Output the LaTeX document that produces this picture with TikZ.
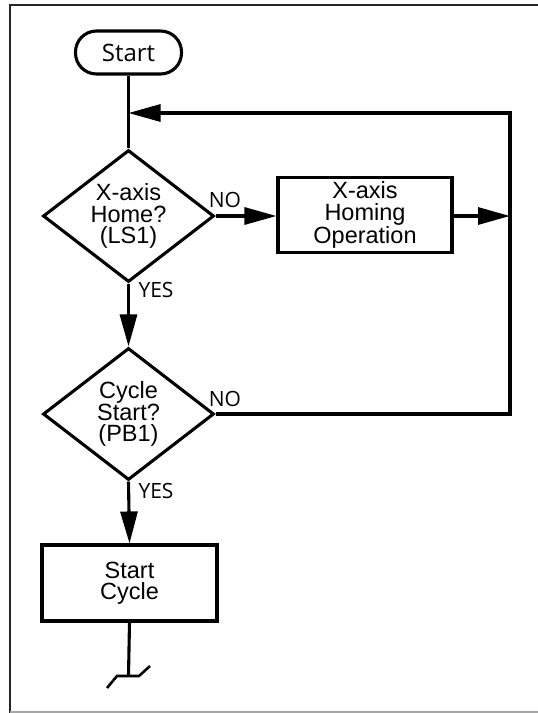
\documentclass[tikz,border=0pt]{standalone}
\usepackage{fontspec}
\usetikzlibrary{arrows.meta,shapes.geometric,calc}
\newfontfamily\boxfont{Liberation Sans}
\newfontfamily\lblfont{Open Sans}
\begin{document}
\begin{tikzpicture}[x=1pt,y=-1pt,
  line width=3.1pt,
  arr/.style={-{Triangle[length=32pt,width=17pt]}},
  boxtxt/.style={font=\boxfont\fontsize{23.5}{21.5}\selectfont, align=center},
  procbox/.style={draw, rectangle, boxtxt, inner sep=0pt},
  decbox/.style={draw, diamond, boxtxt, inner sep=0pt, aspect=1.3, minimum width=171pt, minimum height=132pt},
  termbox/.style={draw, rectangle, rounded corners=21pt, minimum width=106pt, minimum height=43pt, inner sep=0pt, font=\lblfont\fontsize{24}{24}\selectfont},
  lbl/.style={font=\lblfont\fontsize{21}{21}\selectfont, inner sep=0pt}
]
\useasboundingbox (0,0) rectangle (538,713);
% frame
\draw[line width=2.4pt, black!85] (10,713) -- (10,5) -- (538,5);
\draw[line width=1.5pt, black!35] (10,712) -- (538,712);

\node[termbox] (start) at (128.5,52.5) {Start};
\node[decbox] (d1) at (128.5,216) {X-axis\\Home?\\(LS1)};
\node[procbox, minimum width=174pt, minimum height=75pt] (hom) at (365,215) {X-axis\\Homing\\Operation};
\node[decbox] (d2) at (128.5,414) {Cycle\\Start?\\(PB1)};
\node[procbox, minimum width=175pt, minimum height=76pt] (sc) at (129.5,583) {Start\\Cycle};

\coordinate (j) at (128.5,113);
\coordinate (c1) at (510,113);
\coordinate (c2) at (510,414);
\coordinate (r1) at (510,216);
\coordinate (e1) at (128.5,676);

\draw (start.south) -- (d1.north);
\draw[arr] (d2.east) -- (c2) -- (c1) -- (j);
\draw[arr] (d1.east) -- (d1.east -| hom.west);
\draw[arr] (d1.east -| hom.east) -- (r1);
\draw[arr] (d1.south) -- (d2.north);
\draw[arr] (d2.south) -- (sc.north);
\draw (sc.south) -- (e1);
\draw[line width=2.6pt] (107,688) -- (117,676) -- (139,676) -- (150,666);

\node[lbl] (no1) at (225,200) {NO};
\node[lbl, anchor=west] (yes1) at (137,290) {YES};
\node[lbl] (no2) at (225,399) {NO};
\node[lbl, anchor=west] (yes2) at (137,491) {YES};
\end{tikzpicture}
\end{document}
